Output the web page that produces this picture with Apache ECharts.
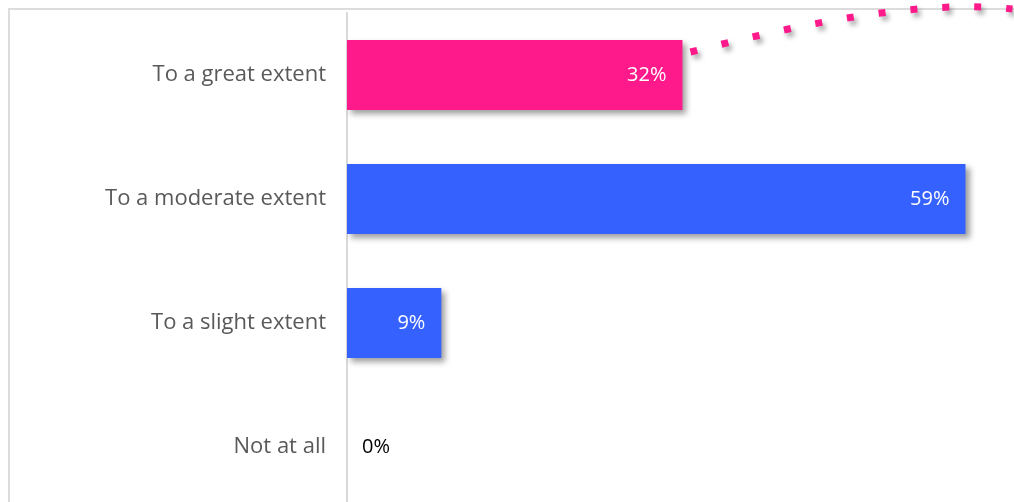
<!DOCTYPE html>
<html>
<head>
<meta charset="utf-8">
<script src="https://cdn.jsdelivr.net/npm/echarts@6/dist/echarts.min.js"></script>
<style>
  html, body { margin: 0; padding: 0; background: #fff; }
  #chart { width: 1014px; height: 502px; }
</style>
</head>
<body>
<div id="chart"></div>
<script>
// Survey answers, top to bottom
const categories = ['To a great extent', 'To a moderate extent', 'To a slight extent', 'Not at all'];
const shares = [32, 59, 9, 0];
const barColors = ['#FF1A8C', '#3561FF', '#3561FF', '#3561FF'];

const FONT = '"Open Sans", "Noto Sans", sans-serif';

const chart = echarts.init(document.getElementById('chart'), null, { renderer: 'canvas' });

const barData = shares.map((v, i) => {
  const item = { value: v, itemStyle: { color: barColors[i] } };
  if (v === 0) {
    item.label = { position: 'right', color: '#000', distance: 15 };
  }
  return item;
});

chart.setOption({
  animation: false,
  backgroundColor: '#fff',
  grid: {
    left: 347, width: 629, top: 13, height: 496,
    containLabel: false,
    outerBoundsMode: 'none'
  },
  xAxis: {
    type: 'value', min: 0, max: 60,
    show: false
  },
  yAxis: {
    type: 'category',
    data: categories,
    inverse: true,
    axisLine: { show: true, lineStyle: { color: '#d9d9d9', width: 2 } },
    axisTick: { show: false },
    axisLabel: { color: '#595959', fontSize: 22, fontFamily: FONT, margin: 21 },
    splitLine: { show: false }
  },
  series: [{
    type: 'bar',
    data: barData,
    barWidth: 70,
    itemStyle: {
      shadowColor: 'rgba(0,0,0,0.38)',
      shadowBlur: 6,
      shadowOffsetX: 4,
      shadowOffsetY: 4
    },
    label: {
      show: true,
      position: 'insideRight',
      distance: 16,
      color: '#fff',
      fontSize: 20,
      fontFamily: FONT,
      formatter: p => p.value + '%'
    }
  }]
});

// Outer frame and the dotted accent rising from the end of the first bar
const barEnd = chart.convertToPixel({ gridIndex: 0 }, [shares[0], categories[0]]);
const sx = barEnd[0] + 8, sy = barEnd[1] - 23;
chart.setOption({
  graphic: [
    {
      type: 'rect',
      shape: { x: 9, y: 9, width: 1020, height: 510 },
      style: { fill: null, stroke: '#dcdcdc', lineWidth: 2 },
      silent: true
    },
    {
      type: 'bezierCurve',
      shape: {
        x1: sx, y1: sy,
        cpx1: sx + 110, cpy1: sy - 28,
        cpx2: sx + 230, cpy2: sy - 53,
        x2: sx + 322, y2: sy - 43
      },
      style: {
        fill: null,
        stroke: '#FF1A8C',
        lineWidth: 7,
        lineDash: [7, 25],
        lineCap: 'butt',
        shadowColor: 'rgba(0,0,0,0.35)',
        shadowBlur: 5,
        shadowOffsetX: 3,
        shadowOffsetY: 4
      },
      silent: true
    }
  ]
});
</script>
</body>
</html>
